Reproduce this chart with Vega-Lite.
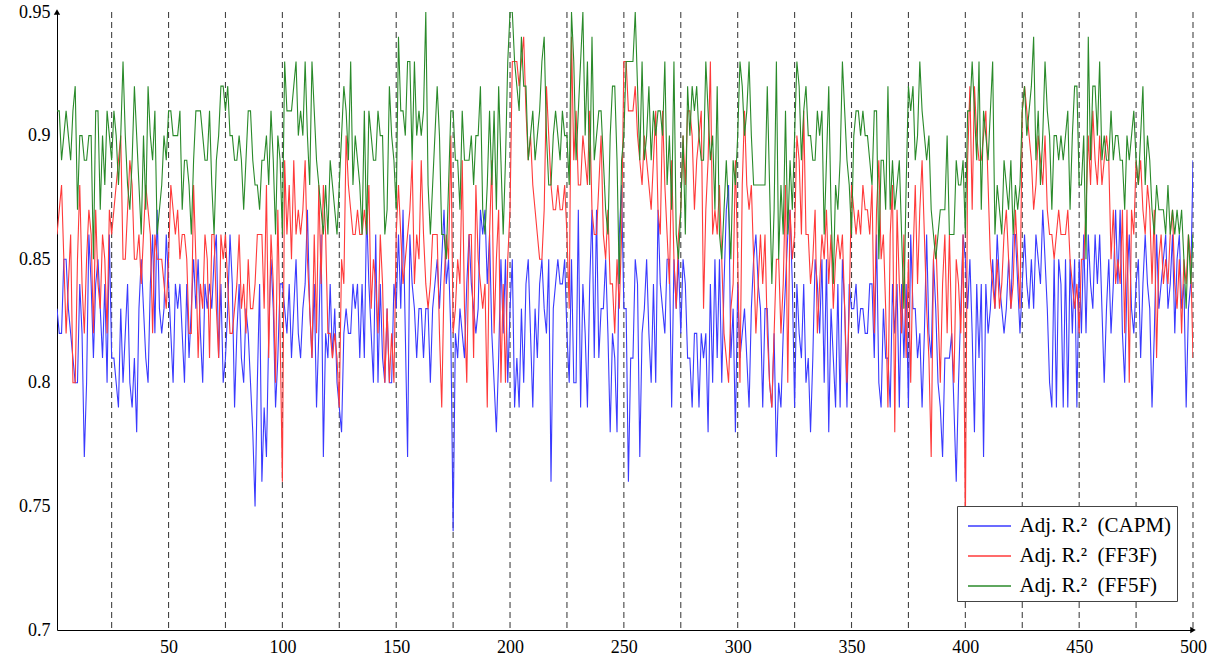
{
"$schema":"https://vega.github.io/schema/vega-lite/v6.json",
"width":1136,"height":618,
"autosize":{"type":"none"},
"padding":{"left":57,"top":12,"right":20,"bottom":33},
"background":"white",
"config":{"view":{"stroke":null},"font":"Liberation Serif"},
"datasets":{
"marks":[{"x":25},{"x":50},{"x":75},{"x":100},{"x":125},{"x":150},{"x":175},{"x":200},{"x":225},{"x":250},{"x":275},{"x":300},{"x":325},{"x":350},{"x":375},{"x":400},{"x":425},{"x":450},{"x":475},{"x":500}],
"yarrow":[{"x":1,"v":0.95}],
"xarrow":[{"x":500,"v":0.7}],
"r":[
{"x":1,"c":0.83,"f":0.86,"g":0.91},{"x":2,"c":0.82,"f":0.87,"g":0.91},{"x":3,"c":0.82,"f":0.88,"g":0.89},{"x":4,"c":0.85,"f":0.85,"g":0.90},{"x":5,"c":0.85,"f":0.82,"g":0.91},{"x":6,"c":0.83,"f":0.84,"g":0.90},{"x":7,"c":0.82,"f":0.86,"g":0.89},{"x":8,"c":0.81,"f":0.80,"g":0.91},{"x":9,"c":0.80,"f":0.80,"g":0.92},{"x":10,"c":0.80,"f":0.85,"g":0.87},
{"x":11,"c":0.84,"f":0.88,"g":0.90},{"x":12,"c":0.82,"f":0.84,"g":0.90},{"x":13,"c":0.77,"f":0.82,"g":0.89},{"x":14,"c":0.80,"f":0.85,"g":0.89},{"x":15,"c":0.86,"f":0.87,"g":0.90},{"x":16,"c":0.84,"f":0.86,"g":0.90},{"x":17,"c":0.81,"f":0.82,"g":0.85},{"x":18,"c":0.84,"f":0.87,"g":0.91},{"x":19,"c":0.85,"f":0.84,"g":0.91},{"x":20,"c":0.83,"f":0.83,"g":0.87},
{"x":21,"c":0.81,"f":0.86,"g":0.90},{"x":22,"c":0.84,"f":0.85,"g":0.88},{"x":23,"c":0.80,"f":0.82,"g":0.91},{"x":24,"c":0.86,"f":0.87,"g":0.90},{"x":25,"c":0.81,"f":0.86,"g":0.89},{"x":26,"c":0.81,"f":0.87,"g":0.91},{"x":27,"c":0.80,"f":0.88,"g":0.90},{"x":28,"c":0.79,"f":0.89,"g":0.88},{"x":29,"c":0.83,"f":0.90,"g":0.90},{"x":30,"c":0.80,"f":0.85,"g":0.93},
{"x":31,"c":0.82,"f":0.85,"g":0.90},{"x":32,"c":0.84,"f":0.87,"g":0.88},{"x":33,"c":0.80,"f":0.89,"g":0.87},{"x":34,"c":0.79,"f":0.88,"g":0.89},{"x":35,"c":0.81,"f":0.85,"g":0.92},{"x":36,"c":0.78,"f":0.85,"g":0.90},{"x":37,"c":0.83,"f":0.86,"g":0.88},{"x":38,"c":0.85,"f":0.84,"g":0.86},{"x":39,"c":0.83,"f":0.86,"g":0.90},{"x":40,"c":0.81,"f":0.88,"g":0.87},
{"x":41,"c":0.80,"f":0.87,"g":0.92},{"x":42,"c":0.84,"f":0.86,"g":0.90},{"x":43,"c":0.86,"f":0.82,"g":0.89},{"x":44,"c":0.82,"f":0.86,"g":0.91},{"x":45,"c":0.87,"f":0.85,"g":0.86},{"x":46,"c":0.83,"f":0.85,"g":0.87},{"x":47,"c":0.82,"f":0.85,"g":0.88},{"x":48,"c":0.83,"f":0.84,"g":0.90},{"x":49,"c":0.86,"f":0.83,"g":0.89},{"x":50,"c":0.84,"f":0.85,"g":0.91},
{"x":51,"c":0.82,"f":0.88,"g":0.91},{"x":52,"c":0.80,"f":0.87,"g":0.90},{"x":53,"c":0.84,"f":0.86,"g":0.90},{"x":54,"c":0.83,"f":0.87,"g":0.90},{"x":55,"c":0.84,"f":0.85,"g":0.91},{"x":56,"c":0.82,"f":0.86,"g":0.87},{"x":57,"c":0.80,"f":0.86,"g":0.89},{"x":58,"c":0.84,"f":0.85,"g":0.89},{"x":59,"c":0.81,"f":0.82,"g":0.88},{"x":60,"c":0.83,"f":0.82,"g":0.86},
{"x":61,"c":0.85,"f":0.88,"g":0.89},{"x":62,"c":0.83,"f":0.85,"g":0.91},{"x":63,"c":0.85,"f":0.81,"g":0.91},{"x":64,"c":0.82,"f":0.84,"g":0.91},{"x":65,"c":0.80,"f":0.83,"g":0.90},{"x":66,"c":0.84,"f":0.86,"g":0.89},{"x":67,"c":0.83,"f":0.85,"g":0.89},{"x":68,"c":0.84,"f":0.81,"g":0.91},{"x":69,"c":0.83,"f":0.86,"g":0.88},{"x":70,"c":0.85,"f":0.86,"g":0.86},
{"x":71,"c":0.86,"f":0.83,"g":0.89},{"x":72,"c":0.81,"f":0.81,"g":0.90},{"x":73,"c":0.84,"f":0.86,"g":0.92},{"x":74,"c":0.80,"f":0.85,"g":0.92},{"x":75,"c":0.81,"f":0.86,"g":0.91},{"x":76,"c":0.83,"f":0.84,"g":0.92},{"x":77,"c":0.86,"f":0.82,"g":0.90},{"x":78,"c":0.84,"f":0.82,"g":0.90},{"x":79,"c":0.79,"f":0.83,"g":0.89},{"x":80,"c":0.82,"f":0.84,"g":0.89},
{"x":81,"c":0.84,"f":0.86,"g":0.90},{"x":82,"c":0.81,"f":0.83,"g":0.89},{"x":83,"c":0.80,"f":0.84,"g":0.87},{"x":84,"c":0.83,"f":0.82,"g":0.89},{"x":85,"c":0.82,"f":0.85,"g":0.91},{"x":86,"c":0.80,"f":0.83,"g":0.91},{"x":87,"c":0.78,"f":0.83,"g":0.89},{"x":88,"c":0.75,"f":0.84,"g":0.88},{"x":89,"c":0.80,"f":0.86,"g":0.88},{"x":90,"c":0.84,"f":0.86,"g":0.87},
{"x":91,"c":0.76,"f":0.86,"g":0.89},{"x":92,"c":0.79,"f":0.83,"g":0.89},{"x":93,"c":0.77,"f":0.88,"g":0.90},{"x":94,"c":0.82,"f":0.81,"g":0.88},{"x":95,"c":0.85,"f":0.86,"g":0.91},{"x":96,"c":0.83,"f":0.84,"g":0.89},{"x":97,"c":0.79,"f":0.80,"g":0.86},{"x":98,"c":0.81,"f":0.87,"g":0.90},{"x":99,"c":0.84,"f":0.82,"g":0.89},{"x":100,"c":0.84,"f":0.76,"g":0.86},
{"x":101,"c":0.83,"f":0.89,"g":0.93},{"x":102,"c":0.82,"f":0.86,"g":0.91},{"x":103,"c":0.84,"f":0.88,"g":0.91},{"x":104,"c":0.81,"f":0.85,"g":0.91},{"x":105,"c":0.83,"f":0.89,"g":0.92},{"x":106,"c":0.85,"f":0.86,"g":0.93},{"x":107,"c":0.82,"f":0.87,"g":0.90},{"x":108,"c":0.81,"f":0.86,"g":0.91},{"x":109,"c":0.83,"f":0.87,"g":0.90},{"x":110,"c":0.84,"f":0.89,"g":0.93},
{"x":111,"c":0.87,"f":0.85,"g":0.90},{"x":112,"c":0.83,"f":0.83,"g":0.88},{"x":113,"c":0.81,"f":0.81,"g":0.93},{"x":114,"c":0.84,"f":0.86,"g":0.91},{"x":115,"c":0.79,"f":0.82,"g":0.89},{"x":116,"c":0.82,"f":0.88,"g":0.88},{"x":117,"c":0.86,"f":0.84,"g":0.87},{"x":118,"c":0.77,"f":0.88,"g":0.86},{"x":119,"c":0.82,"f":0.86,"g":0.88},{"x":120,"c":0.81,"f":0.82,"g":0.86},
{"x":121,"c":0.84,"f":0.82,"g":0.89},{"x":122,"c":0.81,"f":0.81,"g":0.88},{"x":123,"c":0.83,"f":0.82,"g":0.87},{"x":124,"c":0.80,"f":0.81,"g":0.86},{"x":125,"c":0.79,"f":0.79,"g":0.88},{"x":126,"c":0.78,"f":0.85,"g":0.90},{"x":127,"c":0.82,"f":0.84,"g":0.92},{"x":128,"c":0.83,"f":0.90,"g":0.91},{"x":129,"c":0.82,"f":0.88,"g":0.89},{"x":130,"c":0.82,"f":0.87,"g":0.93},
{"x":131,"c":0.84,"f":0.86,"g":0.88},{"x":132,"c":0.83,"f":0.86,"g":0.90},{"x":133,"c":0.84,"f":0.87,"g":0.89},{"x":134,"c":0.81,"f":0.86,"g":0.88},{"x":135,"c":0.84,"f":0.86,"g":0.86},{"x":136,"c":0.81,"f":0.87,"g":0.91},{"x":137,"c":0.87,"f":0.86,"g":0.86},{"x":138,"c":0.84,"f":0.88,"g":0.91},{"x":139,"c":0.82,"f":0.83,"g":0.90},{"x":140,"c":0.80,"f":0.85,"g":0.89},
{"x":141,"c":0.86,"f":0.84,"g":0.89},{"x":142,"c":0.80,"f":0.82,"g":0.91},{"x":143,"c":0.84,"f":0.86,"g":0.90},{"x":144,"c":0.81,"f":0.84,"g":0.90},{"x":145,"c":0.80,"f":0.80,"g":0.86},{"x":146,"c":0.83,"f":0.83,"g":0.87},{"x":147,"c":0.80,"f":0.80,"g":0.92},{"x":148,"c":0.80,"f":0.82,"g":0.90},{"x":149,"c":0.84,"f":0.80,"g":0.89},{"x":150,"c":0.83,"f":0.86,"g":0.87},
{"x":151,"c":0.86,"f":0.88,"g":0.94},{"x":152,"c":0.83,"f":0.86,"g":0.91},{"x":153,"c":0.87,"f":0.84,"g":0.91},{"x":154,"c":0.82,"f":0.85,"g":0.90},{"x":155,"c":0.77,"f":0.86,"g":0.93},{"x":156,"c":0.86,"f":0.87,"g":0.93},{"x":157,"c":0.84,"f":0.89,"g":0.89},{"x":158,"c":0.83,"f":0.84,"g":0.93},{"x":159,"c":0.81,"f":0.86,"g":0.90},{"x":160,"c":0.83,"f":0.85,"g":0.91},
{"x":161,"c":0.83,"f":0.89,"g":0.90},{"x":162,"c":0.81,"f":0.86,"g":0.91},{"x":163,"c":0.83,"f":0.84,"g":0.95},{"x":164,"c":0.83,"f":0.83,"g":0.88},{"x":165,"c":0.80,"f":0.84,"g":0.86},{"x":166,"c":0.83,"f":0.86,"g":0.88},{"x":167,"c":0.84,"f":0.86,"g":0.90},{"x":168,"c":0.85,"f":0.86,"g":0.92},{"x":169,"c":0.83,"f":0.82,"g":0.90},{"x":170,"c":0.85,"f":0.79,"g":0.86},
{"x":171,"c":0.87,"f":0.84,"g":0.86},{"x":172,"c":0.84,"f":0.86,"g":0.85},{"x":173,"c":0.85,"f":0.85,"g":0.88},{"x":174,"c":0.82,"f":0.90,"g":0.91},{"x":175,"c":0.74,"f":0.82,"g":0.91},{"x":176,"c":0.82,"f":0.83,"g":0.89},{"x":177,"c":0.81,"f":0.85,"g":0.89},{"x":178,"c":0.83,"f":0.84,"g":0.87},{"x":179,"c":0.82,"f":0.89,"g":0.91},{"x":180,"c":0.81,"f":0.83,"g":0.89},
{"x":181,"c":0.84,"f":0.80,"g":0.89},{"x":182,"c":0.86,"f":0.86,"g":0.89},{"x":183,"c":0.84,"f":0.86,"g":0.90},{"x":184,"c":0.83,"f":0.81,"g":0.88},{"x":185,"c":0.82,"f":0.88,"g":0.90},{"x":186,"c":0.83,"f":0.85,"g":0.90},{"x":187,"c":0.87,"f":0.84,"g":0.92},{"x":188,"c":0.86,"f":0.83,"g":0.87},{"x":189,"c":0.87,"f":0.84,"g":0.86},{"x":190,"c":0.84,"f":0.79,"g":0.88},
{"x":191,"c":0.86,"f":0.86,"g":0.91},{"x":192,"c":0.82,"f":0.89,"g":0.88},{"x":193,"c":0.80,"f":0.82,"g":0.91},{"x":194,"c":0.78,"f":0.85,"g":0.87},{"x":195,"c":0.81,"f":0.87,"g":0.92},{"x":196,"c":0.85,"f":0.80,"g":0.89},{"x":197,"c":0.82,"f":0.84,"g":0.86},{"x":198,"c":0.85,"f":0.80,"g":0.89},{"x":199,"c":0.80,"f":0.85,"g":0.93},{"x":200,"c":0.83,"f":0.87,"g":0.95},
{"x":201,"c":0.85,"f":0.93,"g":0.95},{"x":202,"c":0.79,"f":0.93,"g":0.93},{"x":203,"c":0.81,"f":0.93,"g":0.92},{"x":204,"c":0.79,"f":0.92,"g":0.91},{"x":205,"c":0.83,"f":0.93,"g":0.94},{"x":206,"c":0.80,"f":0.94,"g":0.92},{"x":207,"c":0.84,"f":0.91,"g":0.92},{"x":208,"c":0.85,"f":0.89,"g":0.89},{"x":209,"c":0.82,"f":0.90,"g":0.90},{"x":210,"c":0.79,"f":0.88,"g":0.91},
{"x":211,"c":0.83,"f":0.87,"g":0.89},{"x":212,"c":0.81,"f":0.86,"g":0.90},{"x":213,"c":0.84,"f":0.85,"g":0.91},{"x":214,"c":0.85,"f":0.85,"g":0.93},{"x":215,"c":0.83,"f":0.87,"g":0.94},{"x":216,"c":0.82,"f":0.92,"g":0.90},{"x":217,"c":0.85,"f":0.90,"g":0.88},{"x":218,"c":0.76,"f":0.88,"g":0.88},{"x":219,"c":0.83,"f":0.87,"g":0.90},{"x":220,"c":0.84,"f":0.87,"g":0.91},
{"x":221,"c":0.85,"f":0.88,"g":0.90},{"x":222,"c":0.84,"f":0.87,"g":0.89},{"x":223,"c":0.84,"f":0.87,"g":0.91},{"x":224,"c":0.85,"f":0.88,"g":0.90},{"x":225,"c":0.82,"f":0.86,"g":0.90},{"x":226,"c":0.80,"f":0.83,"g":0.88},{"x":227,"c":0.85,"f":0.94,"g":0.95},{"x":228,"c":0.80,"f":0.89,"g":0.93},{"x":229,"c":0.80,"f":0.91,"g":0.89},{"x":230,"c":0.87,"f":0.88,"g":0.91},
{"x":231,"c":0.79,"f":0.88,"g":0.93},{"x":232,"c":0.84,"f":0.90,"g":0.95},{"x":233,"c":0.82,"f":0.89,"g":0.90},{"x":234,"c":0.79,"f":0.88,"g":0.93},{"x":235,"c":0.84,"f":0.91,"g":0.88},{"x":236,"c":0.87,"f":0.87,"g":0.94},{"x":237,"c":0.81,"f":0.86,"g":0.89},{"x":238,"c":0.87,"f":0.86,"g":0.90},{"x":239,"c":0.81,"f":0.88,"g":0.91},{"x":240,"c":0.83,"f":0.90,"g":0.91},
{"x":241,"c":0.83,"f":0.86,"g":0.89},{"x":242,"c":0.85,"f":0.85,"g":0.87},{"x":243,"c":0.82,"f":0.87,"g":0.86},{"x":244,"c":0.78,"f":0.84,"g":0.90},{"x":245,"c":0.82,"f":0.84,"g":0.92},{"x":246,"c":0.81,"f":0.82,"g":0.92},{"x":247,"c":0.78,"f":0.85,"g":0.89},{"x":248,"c":0.86,"f":0.83,"g":0.84},{"x":249,"c":0.88,"f":0.86,"g":0.89},{"x":250,"c":0.83,"f":0.93,"g":0.90},
{"x":251,"c":0.83,"f":0.93,"g":0.93},{"x":252,"c":0.76,"f":0.91,"g":0.93},{"x":253,"c":0.81,"f":0.91,"g":0.93},{"x":254,"c":0.81,"f":0.91,"g":0.93},{"x":255,"c":0.85,"f":0.92,"g":0.95},{"x":256,"c":0.84,"f":0.90,"g":0.92},{"x":257,"c":0.77,"f":0.89,"g":0.89},{"x":258,"c":0.82,"f":0.88,"g":0.93},{"x":259,"c":0.83,"f":0.90,"g":0.89},{"x":260,"c":0.85,"f":0.89,"g":0.90},
{"x":261,"c":0.82,"f":0.88,"g":0.92},{"x":262,"c":0.80,"f":0.87,"g":0.89},{"x":263,"c":0.84,"f":0.89,"g":0.91},{"x":264,"c":0.80,"f":0.91,"g":0.90},{"x":265,"c":0.87,"f":0.87,"g":0.91},{"x":266,"c":0.84,"f":0.86,"g":0.91},{"x":267,"c":0.83,"f":0.91,"g":0.90},{"x":268,"c":0.82,"f":0.88,"g":0.93},{"x":269,"c":0.85,"f":0.86,"g":0.88},{"x":270,"c":0.85,"f":0.84,"g":0.90},
{"x":271,"c":0.79,"f":0.89,"g":0.87},{"x":272,"c":0.85,"f":0.85,"g":0.93},{"x":273,"c":0.83,"f":0.83,"g":0.86},{"x":274,"c":0.85,"f":0.86,"g":0.85},{"x":275,"c":0.82,"f":0.87,"g":0.87},{"x":276,"c":0.85,"f":0.90,"g":0.90},{"x":277,"c":0.84,"f":0.88,"g":0.86},{"x":278,"c":0.81,"f":0.91,"g":0.92},{"x":279,"c":0.81,"f":0.91,"g":0.90},{"x":280,"c":0.79,"f":0.90,"g":0.92},
{"x":281,"c":0.82,"f":0.87,"g":0.91},{"x":282,"c":0.82,"f":0.89,"g":0.92},{"x":283,"c":0.79,"f":0.90,"g":0.90},{"x":284,"c":0.82,"f":0.91,"g":0.89},{"x":285,"c":0.81,"f":0.83,"g":0.89},{"x":286,"c":0.82,"f":0.87,"g":0.93},{"x":287,"c":0.78,"f":0.89,"g":0.91},{"x":288,"c":0.84,"f":0.93,"g":0.89},{"x":289,"c":0.80,"f":0.86,"g":0.90},{"x":290,"c":0.85,"f":0.87,"g":0.87},
{"x":291,"c":0.81,"f":0.86,"g":0.92},{"x":292,"c":0.85,"f":0.88,"g":0.86},{"x":293,"c":0.80,"f":0.85,"g":0.85},{"x":294,"c":0.84,"f":0.82,"g":0.87},{"x":295,"c":0.87,"f":0.81,"g":0.89},{"x":296,"c":0.88,"f":0.80,"g":0.87},{"x":297,"c":0.81,"f":0.83,"g":0.85},{"x":298,"c":0.83,"f":0.84,"g":0.89},{"x":299,"c":0.78,"f":0.89,"g":0.88},{"x":300,"c":0.84,"f":0.85,"g":0.90},
{"x":301,"c":0.81,"f":0.80,"g":0.93},{"x":302,"c":0.82,"f":0.88,"g":0.92},{"x":303,"c":0.83,"f":0.91,"g":0.90},{"x":304,"c":0.81,"f":0.88,"g":0.91},{"x":305,"c":0.79,"f":0.87,"g":0.93},{"x":306,"c":0.83,"f":0.88,"g":0.90},{"x":307,"c":0.85,"f":0.85,"g":0.88},{"x":308,"c":0.86,"f":0.82,"g":0.88},{"x":309,"c":0.84,"f":0.84,"g":0.88},{"x":310,"c":0.83,"f":0.86,"g":0.88},
{"x":311,"c":0.79,"f":0.84,"g":0.88},{"x":312,"c":0.83,"f":0.86,"g":0.88},{"x":313,"c":0.83,"f":0.82,"g":0.92},{"x":314,"c":0.80,"f":0.80,"g":0.88},{"x":315,"c":0.79,"f":0.79,"g":0.84},{"x":316,"c":0.82,"f":0.82,"g":0.87},{"x":317,"c":0.77,"f":0.85,"g":0.93},{"x":318,"c":0.80,"f":0.85,"g":0.85},{"x":319,"c":0.79,"f":0.82,"g":0.88},{"x":320,"c":0.82,"f":0.84,"g":0.86},
{"x":321,"c":0.84,"f":0.88,"g":0.91},{"x":322,"c":0.86,"f":0.80,"g":0.86},{"x":323,"c":0.87,"f":0.87,"g":0.89},{"x":324,"c":0.84,"f":0.85,"g":0.87},{"x":325,"c":0.79,"f":0.86,"g":0.90},{"x":326,"c":0.84,"f":0.90,"g":0.93},{"x":327,"c":0.82,"f":0.89,"g":0.92},{"x":328,"c":0.81,"f":0.86,"g":0.89},{"x":329,"c":0.84,"f":0.91,"g":0.91},{"x":330,"c":0.80,"f":0.86,"g":0.92},
{"x":331,"c":0.81,"f":0.86,"g":0.90},{"x":332,"c":0.78,"f":0.84,"g":0.90},{"x":333,"c":0.81,"f":0.85,"g":0.89},{"x":334,"c":0.85,"f":0.87,"g":0.89},{"x":335,"c":0.84,"f":0.82,"g":0.91},{"x":336,"c":0.82,"f":0.84,"g":0.90},{"x":337,"c":0.85,"f":0.86,"g":0.91},{"x":338,"c":0.80,"f":0.85,"g":0.86},{"x":339,"c":0.85,"f":0.87,"g":0.89},{"x":340,"c":0.78,"f":0.84,"g":0.92},
{"x":341,"c":0.83,"f":0.86,"g":0.87},{"x":342,"c":0.81,"f":0.83,"g":0.84},{"x":343,"c":0.79,"f":0.85,"g":0.88},{"x":344,"c":0.84,"f":0.86,"g":0.87},{"x":345,"c":0.79,"f":0.85,"g":0.89},{"x":346,"c":0.85,"f":0.86,"g":0.93},{"x":347,"c":0.83,"f":0.83,"g":0.91},{"x":348,"c":0.79,"f":0.80,"g":0.89},{"x":349,"c":0.84,"f":0.83,"g":0.88},{"x":350,"c":0.83,"f":0.88,"g":0.86},
{"x":351,"c":0.83,"f":0.87,"g":0.90},{"x":352,"c":0.84,"f":0.86,"g":0.91},{"x":353,"c":0.82,"f":0.87,"g":0.91},{"x":354,"c":0.83,"f":0.86,"g":0.90},{"x":355,"c":0.83,"f":0.88,"g":0.91},{"x":356,"c":0.82,"f":0.87,"g":0.90},{"x":357,"c":0.82,"f":0.87,"g":0.90},{"x":358,"c":0.84,"f":0.86,"g":0.89},{"x":359,"c":0.84,"f":0.88,"g":0.88},{"x":360,"c":0.81,"f":0.82,"g":0.91},
{"x":361,"c":0.86,"f":0.87,"g":0.91},{"x":362,"c":0.80,"f":0.89,"g":0.85},{"x":363,"c":0.79,"f":0.85,"g":0.89},{"x":364,"c":0.83,"f":0.86,"g":0.89},{"x":365,"c":0.81,"f":0.83,"g":0.87},{"x":366,"c":0.81,"f":0.79,"g":0.92},{"x":367,"c":0.79,"f":0.86,"g":0.87},{"x":368,"c":0.84,"f":0.88,"g":0.89},{"x":369,"c":0.82,"f":0.78,"g":0.87},{"x":370,"c":0.84,"f":0.87,"g":0.88},
{"x":371,"c":0.79,"f":0.84,"g":0.89},{"x":372,"c":0.84,"f":0.82,"g":0.86},{"x":373,"c":0.81,"f":0.86,"g":0.83},{"x":374,"c":0.84,"f":0.81,"g":0.88},{"x":375,"c":0.79,"f":0.85,"g":0.92},{"x":376,"c":0.86,"f":0.80,"g":0.91},{"x":377,"c":0.83,"f":0.85,"g":0.92},{"x":378,"c":0.83,"f":0.88,"g":0.89},{"x":379,"c":0.81,"f":0.84,"g":0.90},{"x":380,"c":0.82,"f":0.87,"g":0.93},
{"x":381,"c":0.79,"f":0.89,"g":0.91},{"x":382,"c":0.82,"f":0.86,"g":0.90},{"x":383,"c":0.86,"f":0.83,"g":0.89},{"x":384,"c":0.82,"f":0.81,"g":0.90},{"x":385,"c":0.81,"f":0.77,"g":0.87},{"x":386,"c":0.85,"f":0.85,"g":0.86},{"x":387,"c":0.83,"f":0.86,"g":0.85},{"x":388,"c":0.80,"f":0.83,"g":0.86},{"x":389,"c":0.79,"f":0.80,"g":0.87},{"x":390,"c":0.77,"f":0.84,"g":0.87},
{"x":391,"c":0.81,"f":0.86,"g":0.87},{"x":392,"c":0.81,"f":0.82,"g":0.90},{"x":393,"c":0.81,"f":0.86,"g":0.86},{"x":394,"c":0.82,"f":0.82,"g":0.86},{"x":395,"c":0.79,"f":0.80,"g":0.86},{"x":396,"c":0.76,"f":0.85,"g":0.89},{"x":397,"c":0.80,"f":0.84,"g":0.88},{"x":398,"c":0.83,"f":0.82,"g":0.88},{"x":399,"c":0.86,"f":0.86,"g":0.89},{"x":400,"c":0.85,"f":0.74,"g":0.86},
{"x":401,"c":0.83,"f":0.89,"g":0.91},{"x":402,"c":0.85,"f":0.92,"g":0.91},{"x":403,"c":0.82,"f":0.87,"g":0.93},{"x":404,"c":0.78,"f":0.92,"g":0.91},{"x":405,"c":0.84,"f":0.90,"g":0.89},{"x":406,"c":0.81,"f":0.89,"g":0.93},{"x":407,"c":0.84,"f":0.89,"g":0.87},{"x":408,"c":0.77,"f":0.90,"g":0.91},{"x":409,"c":0.84,"f":0.91,"g":0.90},{"x":410,"c":0.82,"f":0.88,"g":0.89},
{"x":411,"c":0.83,"f":0.85,"g":0.91},{"x":412,"c":0.85,"f":0.84,"g":0.93},{"x":413,"c":0.83,"f":0.83,"g":0.86},{"x":414,"c":0.86,"f":0.85,"g":0.88},{"x":415,"c":0.84,"f":0.83,"g":0.87},{"x":416,"c":0.83,"f":0.84,"g":0.86},{"x":417,"c":0.82,"f":0.86,"g":0.89},{"x":418,"c":0.83,"f":0.87,"g":0.88},{"x":419,"c":0.85,"f":0.85,"g":0.87},{"x":420,"c":0.83,"f":0.83,"g":0.89},
{"x":421,"c":0.86,"f":0.84,"g":0.86},{"x":422,"c":0.86,"f":0.87,"g":0.88},{"x":423,"c":0.84,"f":0.85,"g":0.87},{"x":424,"c":0.82,"f":0.83,"g":0.88},{"x":425,"c":0.84,"f":0.91,"g":0.91},{"x":426,"c":0.86,"f":0.92,"g":0.92},{"x":427,"c":0.84,"f":0.91,"g":0.90},{"x":428,"c":0.83,"f":0.90,"g":0.91},{"x":429,"c":0.85,"f":0.89,"g":0.92},{"x":430,"c":0.83,"f":0.87,"g":0.94},
{"x":431,"c":0.86,"f":0.88,"g":0.89},{"x":432,"c":0.85,"f":0.90,"g":0.91},{"x":433,"c":0.84,"f":0.89,"g":0.88},{"x":434,"c":0.87,"f":0.88,"g":0.90},{"x":435,"c":0.85,"f":0.90,"g":0.93},{"x":436,"c":0.83,"f":0.87,"g":0.91},{"x":437,"c":0.80,"f":0.86,"g":0.90},{"x":438,"c":0.79,"f":0.86,"g":0.87},{"x":439,"c":0.85,"f":0.85,"g":0.90},{"x":440,"c":0.79,"f":0.86,"g":0.90},
{"x":441,"c":0.85,"f":0.87,"g":0.89},{"x":442,"c":0.84,"f":0.86,"g":0.90},{"x":443,"c":0.79,"f":0.86,"g":0.89},{"x":444,"c":0.85,"f":0.86,"g":0.90},{"x":445,"c":0.79,"f":0.87,"g":0.91},{"x":446,"c":0.85,"f":0.85,"g":0.87},{"x":447,"c":0.82,"f":0.84,"g":0.90},{"x":448,"c":0.85,"f":0.83,"g":0.92},{"x":449,"c":0.79,"f":0.84,"g":0.92},{"x":450,"c":0.85,"f":0.82,"g":0.88},
{"x":451,"c":0.82,"f":0.85,"g":0.88},{"x":452,"c":0.86,"f":0.85,"g":0.90},{"x":453,"c":0.82,"f":0.87,"g":0.85},{"x":454,"c":0.86,"f":0.90,"g":0.94},{"x":455,"c":0.84,"f":0.88,"g":0.89},{"x":456,"c":0.83,"f":0.91,"g":0.92},{"x":457,"c":0.86,"f":0.89,"g":0.92},{"x":458,"c":0.84,"f":0.88,"g":0.90},{"x":459,"c":0.86,"f":0.90,"g":0.93},{"x":460,"c":0.83,"f":0.88,"g":0.89},
{"x":461,"c":0.80,"f":0.89,"g":0.90},{"x":462,"c":0.83,"f":0.90,"g":0.89},{"x":463,"c":0.85,"f":0.89,"g":0.89},{"x":464,"c":0.82,"f":0.85,"g":0.91},{"x":465,"c":0.84,"f":0.87,"g":0.89},{"x":466,"c":0.87,"f":0.84,"g":0.90},{"x":467,"c":0.84,"f":0.85,"g":0.90},{"x":468,"c":0.87,"f":0.84,"g":0.89},{"x":469,"c":0.82,"f":0.87,"g":0.89},{"x":470,"c":0.80,"f":0.82,"g":0.87},
{"x":471,"c":0.84,"f":0.87,"g":0.90},{"x":472,"c":0.86,"f":0.80,"g":0.89},{"x":473,"c":0.83,"f":0.87,"g":0.90},{"x":474,"c":0.82,"f":0.86,"g":0.91},{"x":475,"c":0.84,"f":0.89,"g":0.89},{"x":476,"c":0.85,"f":0.88,"g":0.88},{"x":477,"c":0.81,"f":0.89,"g":0.90},{"x":478,"c":0.84,"f":0.87,"g":0.92},{"x":479,"c":0.86,"f":0.86,"g":0.88},{"x":480,"c":0.84,"f":0.88,"g":0.90},
{"x":481,"c":0.83,"f":0.87,"g":0.89},{"x":482,"c":0.79,"f":0.84,"g":0.87},{"x":483,"c":0.82,"f":0.87,"g":0.86},{"x":484,"c":0.86,"f":0.81,"g":0.88},{"x":485,"c":0.83,"f":0.85,"g":0.87},{"x":486,"c":0.84,"f":0.86,"g":0.87},{"x":487,"c":0.85,"f":0.84,"g":0.87},{"x":488,"c":0.86,"f":0.85,"g":0.86},{"x":489,"c":0.83,"f":0.84,"g":0.88},{"x":490,"c":0.84,"f":0.86,"g":0.86},
{"x":491,"c":0.86,"f":0.87,"g":0.87},{"x":492,"c":0.82,"f":0.84,"g":0.86},{"x":493,"c":0.85,"f":0.83,"g":0.87},{"x":494,"c":0.86,"f":0.85,"g":0.86},{"x":495,"c":0.83,"f":0.82,"g":0.87},{"x":496,"c":0.84,"f":0.85,"g":0.85},{"x":497,"c":0.79,"f":0.84,"g":0.83},{"x":498,"c":0.83,"f":0.86,"g":0.86},{"x":499,"c":0.84,"f":0.85,"g":0.84},{"x":500,"c":0.89,"f":0.81,"g":0.86}
]},
"encoding":{
"x":{"field":"x","type":"quantitative","scale":{"domain":[1,500],"nice":false,"zero":false},
"axis":{"title":null,"values":[50,100,150,200,250,300,350,400,450,500],"grid":false,"ticks":false,"domainColor":"#000","domainWidth":1,"labelFont":"Liberation Serif","labelFontSize":18,"labelColor":"#000","labelPadding":8,"labelFlush":false,"labelOverlap":false}}
},
"layer":[
{"data":{"name":"marks"},"mark":{"type":"rule","color":"#444","strokeDash":[6,4],"strokeWidth":1.1},"encoding":{}},
{"data":{"name":"r"},"transform":[{"fold":["c","f","g"],"as":["s","v"]}],
"mark":{"type":"line","strokeWidth":1.1,"clip":true},
"encoding":{
"y":{"field":"v","type":"quantitative","scale":{"domain":[0.7,0.95],"nice":false,"zero":false},
"axis":{"title":null,"values":[0.7,0.75,0.8,0.85,0.9,0.95],"format":".2~f","grid":false,"ticks":false,"domainColor":"#000","domainWidth":1,"labelFont":"Liberation Serif","labelFontSize":18,"labelColor":"#000","labelPadding":7,"labelFlush":false,"labelOverlap":false}},
"color":{"field":"s","type":"nominal","sort":["c","f","g"],"scale":{"domain":["c","f","g"],"range":["#3a3aff","#ff3a3a","#2a8a2a"]},
"legend":{"title":null,"orient":"none","legendX":900,"legendY":494,"fillColor":"white","strokeColor":"#444","padding":5,"symbolType":"M-1.5,0L1.5,0","symbolSize":822,"symbolOffset":12.5,"symbolStrokeWidth":1.3,"symbolFillColor":"transparent","labelFont":"Liberation Serif","labelFontSize":21,"labelColor":"#000","labelOffset":15,"rowPadding":5,
"labelExpr":"datum.value === 'c' ? 'Adj. R.\u00b2\u00a0 (CAPM)' : datum.value === 'f' ? 'Adj. R.\u00b2\u00a0 (FF3F)' : 'Adj. R.\u00b2\u00a0 (FF5F)'"}}
}},
{"data":{"name":"yarrow"},"mark":{"type":"point","shape":"triangle-up","filled":true,"color":"#000","size":40,"opacity":1},"encoding":{"y":{"field":"v","type":"quantitative"}}},
{"data":{"name":"xarrow"},"mark":{"type":"point","shape":"triangle-right","filled":true,"color":"#000","size":40,"opacity":1},"encoding":{"y":{"field":"v","type":"quantitative"}}}
]
}
